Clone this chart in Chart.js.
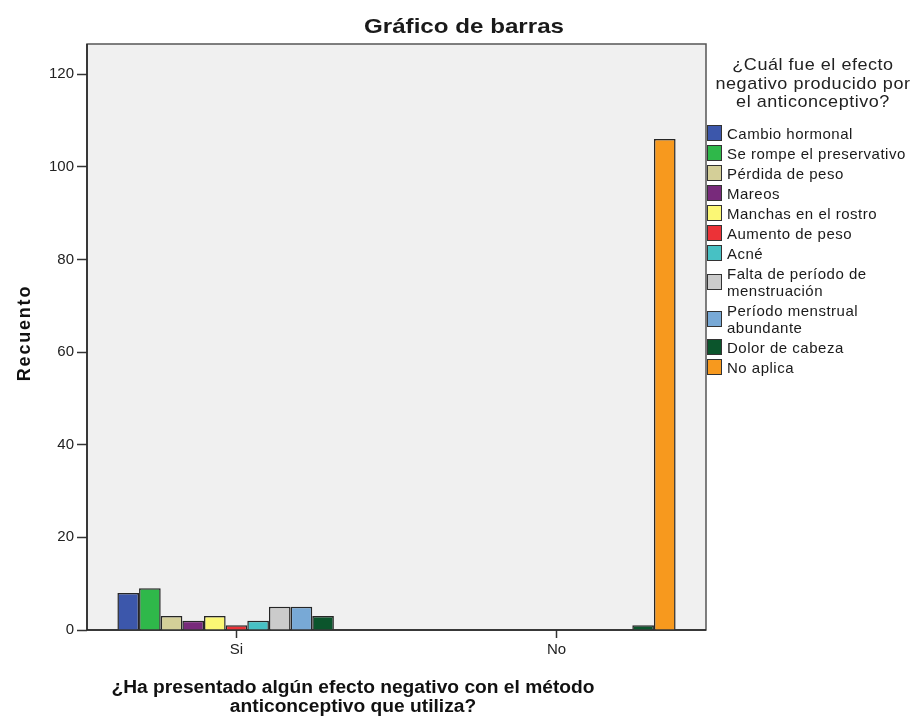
<!DOCTYPE html>
<html>
<head>
<meta charset="utf-8">
<script src="https://cdn.jsdelivr.net/npm/chart.js@4/dist/chart.umd.min.js"></script>
<style>
  body { margin: 0; background: #fff; font-family: "Liberation Sans", Arial, sans-serif; color: #1a1a1a; }
  #wrap { position: relative; width: 914px; height: 718px; }
  #chartCanvas { position: absolute; left: 0; top: 0; }
  #title { position: absolute; left: 314px; width: 300px; top: 14px; line-height: 24px; text-align: center; font-weight: bold; font-size: 21px; transform: scaleX(1.15); }
  #yTitle { position: absolute; left: -76px; width: 200px; top: 322px; height: 22px; line-height: 22px; text-align: center; font-weight: bold; font-size: 18px; letter-spacing: 1.8px; transform: rotate(-90deg); color: #111; }
  #xTitle { position: absolute; left: 0; width: 706px; top: 678px; text-align: center; font-weight: bold; font-size: 18px; line-height: 19px; transform: scaleX(1.066); color: #111; }
  #legend { position: absolute; left: 706px; top: 56px; width: 208px; font-size: 15px; letter-spacing: 0.5px; }
  #legend .head { text-align: center; font-size: 17px; line-height: 18.5px; margin-bottom: 13px; color: #222; white-space: nowrap; transform: scaleX(1.06); margin-left: 6px; }
  #legend .item { display: flex; align-items: center; margin-bottom: 3px; line-height: 17px; white-space: nowrap; }
  #legend .sw { width: 13px; height: 14px; border: 1px solid #333; margin-left: 1px; margin-right: 5px; flex: none; }
</style>
</head>
<body>
<div id="wrap">
  <canvas id="chartCanvas" width="914" height="718"></canvas>
  <div id="title">Gráfico de barras</div>
  <div id="yTitle">Recuento</div>
  <div id="xTitle">¿Ha presentado algún efecto negativo con el método<br>anticonceptivo que utiliza?</div>
  <div id="legend"></div>
</div>
<script>
// respuestas del eje X
const answers = ["Si", "No"];

// efectos negativos (series)
const effects = [
  "Cambio hormonal",
  "Se rompe el preservativo",
  "Pérdida de peso",
  "Mareos",
  "Manchas en el rostro",
  "Aumento de peso",
  "Acné",
  "Falta de período de menstruación",
  "Período menstrual abundante",
  "Dolor de cabeza",
  "No aplica",
];
const legendLabels = [
  "Cambio hormonal",
  "Se rompe el preservativo",
  "Pérdida de peso",
  "Mareos",
  "Manchas en el rostro",
  "Aumento de peso",
  "Acné",
  "Falta de período de<br>menstruación",
  "Período menstrual<br>abundante",
  "Dolor de cabeza",
  "No aplica",
];
const colors = ["#3c57ab", "#2fb84a", "#d4cf98", "#782a7b", "#fbf775", "#ec3237", "#47c1c4", "#cbcbcb", "#78a9d6", "#0b552c", "#f7991e"];

// recuento por efecto: [Si, No]
const countsSi = [8, 9, 3, 2, 3, 1, 2, 5, 5, 3, 0];
const countsNo = [0, 0, 0, 0, 0, 0, 0, 0, 0, 1, 106];

const yTicks = [0, 20, 40, 60, 80, 100, 120];

const datasets = effects.map((name, i) => ({
  label: name,
  data: [countsSi[i], countsNo[i]].map(v => v || null),
  backgroundColor: colors[i],
  borderColor: "#262626",
  borderWidth: 1.5,
  barPercentage: 1,
  categoryPercentage: 0.744,
}));

// fondo gris del área de trazado y marco
const frame = {
  id: "frame",
  beforeDatasetsDraw(chart) {
    const { ctx, chartArea: a } = chart;
    ctx.save();
    ctx.fillStyle = "#f0f0f0";
    ctx.fillRect(a.left, a.top, a.right - a.left, a.bottom - a.top);
    ctx.strokeStyle = "#555";
    ctx.lineWidth = 1.5;
    ctx.strokeRect(a.left, a.top, a.right - a.left, a.bottom - a.top);
    ctx.strokeStyle = "#222";
    ctx.beginPath();
    ctx.moveTo(a.left, a.top);
    ctx.lineTo(a.left, a.bottom);
    ctx.lineTo(a.right, a.bottom);
    ctx.stroke();
    ctx.restore();
  },
};

Chart.defaults.font.family = '"Liberation Sans", Arial, sans-serif';
Chart.defaults.color = "#222";

new Chart(document.getElementById("chartCanvas"), {
  type: "bar",
  data: { labels: answers, datasets },
  options: {
    responsive: false,
    animation: false,
    layout: { padding: { left: 0, top: 44, right: 208, bottom: 0 } },
    plugins: { legend: { display: false }, tooltip: { enabled: false } },
    scales: {
      x: {
        grid: { offset: false, drawOnChartArea: false, tickLength: 8, tickColor: "#333", tickWidth: 1.5 },
        border: { display: false },
        ticks: { font: { size: 15 }, padding: 3 },
        afterFit: s => { s.height = 88; },
        afterBuildTicks: s => { s._startValue = -0.467; s._valueRange = 1.934; },
      },
      y: {
        min: 0,
        max: 126.5,
        afterBuildTicks: s => { s.ticks = yTicks.map(v => ({ value: v })); },
        grid: { drawOnChartArea: false, tickLength: 10, tickColor: "#333", tickWidth: 1.5 },
        border: { display: false },
        ticks: { font: { size: 15 }, padding: 3 },
        afterFit: s => { s.width = 87; },
      },
    },
  },
  plugins: [frame],
});

// leyenda a la derecha
const legend = document.getElementById("legend");
legend.innerHTML = '<div class="head">¿Cuál fue el efecto<br>negativo producido por<br>el anticonceptivo?</div>' +
  legendLabels.map((t, i) => `<div class="item"><span class="sw" style="background:${colors[i]}"></span><span>${t}</span></div>`).join("");
</script>
</body>
</html>
